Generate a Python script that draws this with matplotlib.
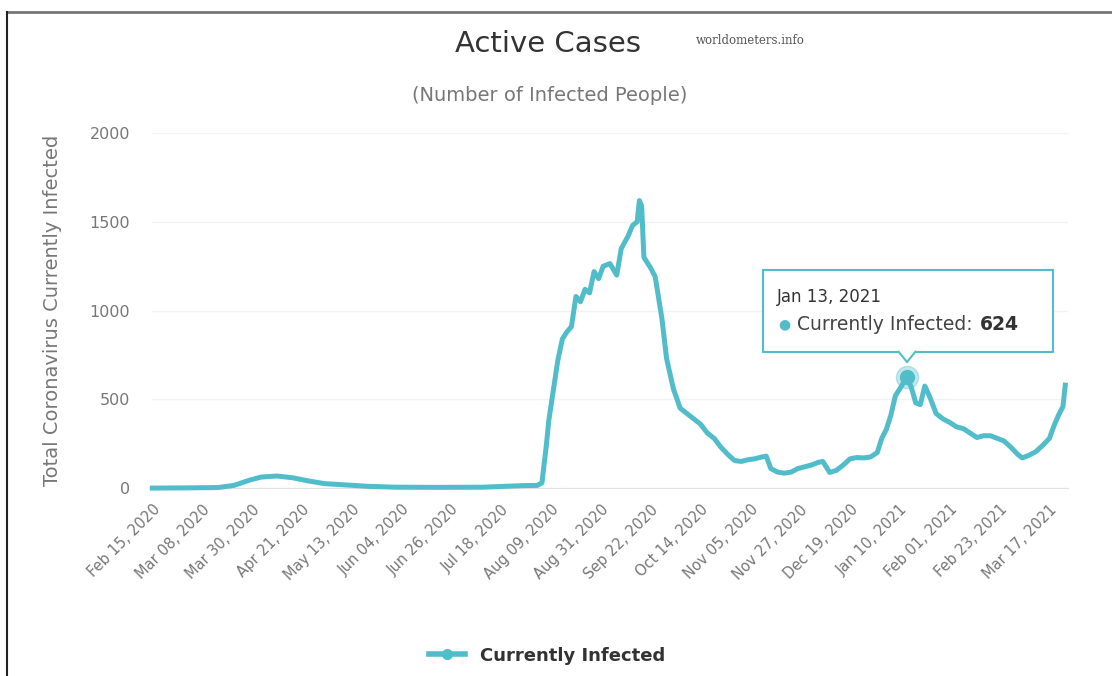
import pandas as pd
import matplotlib.pyplot as plt
import matplotlib.dates as mdates
from matplotlib.patches import FancyBboxPatch, Polygon
from matplotlib.lines import Line2D

# values (date -> currently infected)
dates = ["2020-02-15", "2020-03-01", "2020-03-15", "2020-03-22", "2020-03-29",
         "2020-04-03", "2020-04-10", "2020-04-17", "2020-04-24", "2020-05-01",
         "2020-05-10", "2020-05-20", "2020-06-01", "2020-06-20", "2020-07-10",
         "2020-07-20", "2020-07-28", "2020-08-03", "2020-08-05", "2020-08-07",
         "2020-08-08", "2020-08-10", "2020-08-12", "2020-08-14", "2020-08-16",
         "2020-08-18", "2020-08-20", "2020-08-22", "2020-08-24", "2020-08-26",
         "2020-08-28", "2020-08-30", "2020-09-01", "2020-09-04", "2020-09-07",
         "2020-09-09", "2020-09-12", "2020-09-14", "2020-09-16", "2020-09-17",
         "2020-09-18", "2020-09-19", "2020-09-22", "2020-09-24", "2020-09-27",
         "2020-09-29", "2020-10-02", "2020-10-05", "2020-10-08", "2020-10-11",
         "2020-10-14", "2020-10-17", "2020-10-20", "2020-10-23", "2020-10-26",
         "2020-10-29", "2020-11-01", "2020-11-04", "2020-11-07", "2020-11-10",
         "2020-11-12", "2020-11-14", "2020-11-17", "2020-11-20", "2020-11-23",
         "2020-11-26", "2020-11-29", "2020-12-02", "2020-12-05", "2020-12-07",
         "2020-12-10", "2020-12-13", "2020-12-16", "2020-12-19", "2020-12-22",
         "2020-12-25", "2020-12-28", "2020-12-31", "2021-01-02", "2021-01-04",
         "2021-01-06", "2021-01-08", "2021-01-10", "2021-01-13", "2021-01-15",
         "2021-01-17", "2021-01-19", "2021-01-21", "2021-01-23", "2021-01-26",
         "2021-01-29", "2021-02-01", "2021-02-04", "2021-02-07", "2021-02-10",
         "2021-02-13", "2021-02-16", "2021-02-19", "2021-02-22", "2021-02-25",
         "2021-02-28", "2021-03-03", "2021-03-05", "2021-03-08", "2021-03-11",
         "2021-03-14", "2021-03-17", "2021-03-19", "2021-03-21", "2021-03-23",
         "2021-03-24"]
infected = [0, 1, 3, 15, 45,
            62, 68, 58, 40, 25,
            18, 10, 5, 4, 5,
            10, 14, 15, 30, 250,
            380, 550, 720, 840, 880,
            910, 1080, 1050, 1120, 1100,
            1220, 1180, 1250, 1265, 1200,
            1350, 1420, 1480, 1500, 1620,
            1590, 1300, 1240, 1190, 950,
            730, 560, 450, 420, 390,
            360, 310, 280, 230, 190,
            155, 150, 160, 165, 175,
            180, 110, 90, 84, 90,
            110, 120, 130, 145, 150,
            88, 100, 130, 165, 172,
            170, 175, 200, 280, 330,
            410, 520, 560, 624, 570,
            480, 470, 575, 520, 420,
            390, 370, 345, 335, 310,
            285, 295, 295, 280, 265,
            230, 190, 170, 185, 205,
            240, 280, 350, 410, 460,
            580]

tick_start = "2020-02-15"
n_ticks = 19
tip_date = "2021-01-13"
tip_value = 624

teal = "#52bdca"
grey = "#777777"

x = pd.to_datetime(dates)
ticks = pd.date_range(tick_start, periods=n_ticks, freq="22D")

fig = plt.figure(figsize=(11.12, 6.76), dpi=100)
ax = fig.add_axes([0.137, 0.278, 0.823, 0.525])

ax.plot(x, infected, color=teal, lw=3.6, solid_joinstyle="round", clip_on=False, zorder=3)

ax.set_ylim(0, 2000)
ax.set_yticks([0, 500, 1000, 1500, 2000])
ax.set_xlim(pd.Timestamp("2020-02-15"), pd.Timestamp("2021-03-25"))
ax.set_xticks(ticks)
ax.xaxis.set_major_formatter(mdates.DateFormatter("%b %d, %Y"))
plt.setp(ax.get_xticklabels(), rotation=45, ha="right", rotation_mode="anchor")
ax.tick_params(axis="x", length=0, colors=grey, labelsize=10.5, pad=10)
ax.tick_params(axis="y", length=0, colors=grey, labelsize=11.5, pad=16)
ax.grid(axis="y", color="#f2f2f2", lw=1)
for s in ["top", "right", "left"]:
    ax.spines[s].set_visible(False)
ax.spines["bottom"].set_color("#e0e0e0")
ax.set_ylabel("Total Coronavirus Currently Infected", color=grey, fontsize=14, labelpad=20)

fig.text(0.493, 0.935, "Active Cases", ha="center", va="center", fontsize=21, color="#333333")
fig.text(0.675, 0.94, "worldometers.info", ha="center", va="center", fontsize=8.5,
         family="DejaVu Serif", color="#555555")
fig.text(0.494, 0.858, "(Number of Infected People)", ha="center", va="center",
         fontsize=14, color=grey)

# highlighted point + tooltip
tx = pd.Timestamp(tip_date)
ax.plot([tx], [tip_value], "o", ms=16, color=teal, alpha=0.35, zorder=4, clip_on=False)
ax.plot([tx], [tip_value], "o", ms=10, color=teal, zorder=5, clip_on=False)

px, py = 907, 676 - 352
bx0, bx1, by0, by1 = 763, 1053, 676 - 352, 676 - 270
box = FancyBboxPatch((bx0 / 1112, by0 / 676), (bx1 - bx0) / 1112, (by1 - by0) / 676,
                     boxstyle="square,pad=0", transform=fig.transFigure,
                     facecolor="white", edgecolor=teal, lw=1.5, zorder=10)
fig.patches.append(box)
ptr = Polygon([((px - 9) / 1112, (py + 1) / 676), (px / 1112, (py - 10) / 676),
               ((px + 9) / 1112, (py + 1) / 676)], closed=False, transform=fig.transFigure,
              facecolor="white", edgecolor=teal, lw=1.5, zorder=11)
fig.patches.append(ptr)
fig.text(777 / 1112, 1 - 297 / 676, "Jan 13, 2021", fontsize=12, color="#333333", va="center", zorder=12)
fig.text(778 / 1112, 1 - 324 / 676, "\u25cf", fontsize=10, color=teal, va="center", zorder=12)
fig.text(797 / 1112, 1 - 324 / 676, "Currently Infected:", fontsize=13.5, color="#444444",
         va="center", zorder=12)
fig.text(980 / 1112, 1 - 324 / 676, str(tip_value), fontsize=13.5, color="#333333",
         va="center", weight="bold", zorder=12)

# legend
handle = Line2D([], [], color=teal, lw=4, marker="o", ms=7)
leg = fig.legend([handle], ["Currently Infected"], loc="center", bbox_to_anchor=(0.492, 0.03),
                 frameon=False, handlelength=2.0, prop={"weight": "bold", "size": 13})
for t in leg.get_texts():
    t.set_color("#333333")

# page frame (top and left edge)
fig.add_artist(Line2D([7 / 1112, 1], [1 - 12 / 676] * 2, transform=fig.transFigure,
                      color="#777777", lw=2))
fig.add_artist(Line2D([7 / 1112] * 2, [0, 1 - 12 / 676], transform=fig.transFigure,
                      color="#222222", lw=1.5))

fig.savefig("out.png", dpi=100)
